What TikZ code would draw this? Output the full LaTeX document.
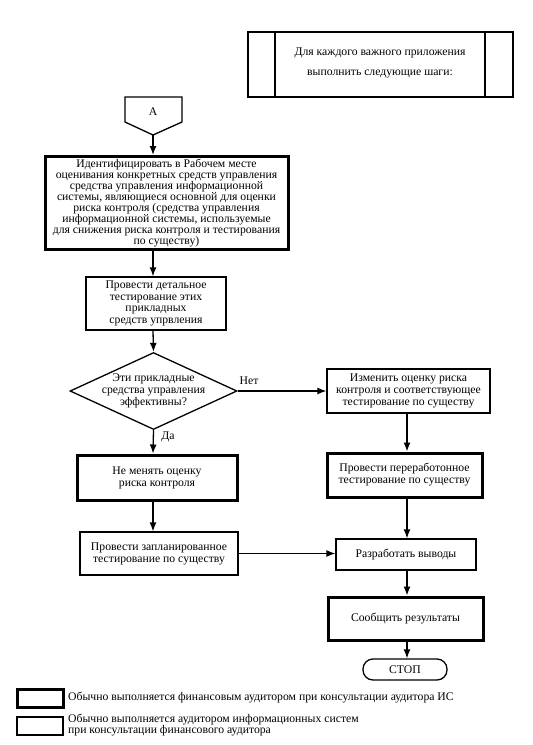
\documentclass[tikz,border=0pt]{standalone}
\usepackage{fontspec}
\setmainfont{Liberation Serif}
\usetikzlibrary{shapes.geometric,arrows.meta,calc}
\begin{document}
\begin{tikzpicture}[x=1pt,y=-1pt,
  every node/.style={font=\fontsize{11.7}{12}\selectfont},
  thinbox/.style={draw, line width=1.3pt, rectangle, inner sep=0pt, align=center},
  thickbox/.style={draw, line width=3pt, rectangle, inner sep=0pt, align=center},
  arr/.style={line width=1.3pt, -{Latex[length=9pt,width=7pt]}},
  lbl/.style={inner sep=0pt}
]
\useasboundingbox (0,0) rectangle (533,745);
\fill[white] (0,0) rectangle (533,745);

% column coordinates
\coordinate (L) at (153,0);
\coordinate (R) at (407,0);

% top box
\node[thickbox, minimum width=265pt, minimum height=65pt, line width=2.6pt] (top) at (380.5,64.5) {};
\draw[line width=2.2pt] (275,32) -- (275,97) (485,32) -- (485,97);
\node[lbl, align=center, font=\fontsize{11.7}{20}\selectfont] (toptxt) at (380,63) {Для каждого важного приложения\\выполнить следующие шаги:};

% connector A
\draw[line width=1.3pt, line join=miter] (125,97) -- (182,97) -- (182,122) -- (153,135) -- (125,122) -- cycle;
\node[lbl] (A) at (153,112) {А};
\coordinate (Abot) at (153,135);

% box 1
\node[thickbox, minimum width=243pt, minimum height=93pt, font=\fontsize{11.7}{10.9}\selectfont] (b1) at (166.5,203)
 {Идентифицировать в Рабочем месте\\оценивания конкретных средств управления\\средства управления информационной\\системы, являющиеся основной для оценки\\риска контроля (средства управления\\информационной системы, используемые\\для снижения риска контроля и тестирования\\по существу)};

% box 2
\node[thinbox, minimum width=140pt, minimum height=53pt, font=\fontsize{11.7}{11.6}\selectfont] (b2) at (156,303.5)
 {Провести детальное\\тестирование этих\\прикладных\\средств упрвления};

% diamond
\node[diamond, draw, line width=1.3pt, minimum width=167pt, minimum height=77pt, inner sep=0pt] (dia) at (153.5,391) {};
\node[lbl, align=center] (diatxt) at (153.5,391) {Эти прикладные\\средства управления\\эффективны?};

% right box 1
\node[thinbox, minimum width=163pt, minimum height=44pt] (r1) at (408.5,391)
 {Изменить оценку риска\\контроля и соответствующее\\тестирование по существу};

% left thick
\node[thickbox, minimum width=160pt, minimum height=45pt] (l1) at (157,477.5)
 {Не менять оценку\\риска контроля};

% right thick
\node[thickbox, minimum width=155pt, minimum height=44pt] (r2) at (404.5,475)
 {Провести переработонное\\тестирование по существу};

% planned testing
\node[thinbox, minimum width=158pt, minimum height=43pt] (l2) at (159,553.5)
 {Провести запланированное\\тестирование по существу};

% conclusions
\node[thinbox, minimum width=140pt, minimum height=31pt] (r3) at (406,554.5)
 {Разработать выводы};

% report
\node[thickbox, minimum width=155pt, minimum height=43pt] (r4) at (405.5,618.5)
 {Сообщить результаты};

% stop
\node[draw, line width=1.3pt, rounded corners=10pt, minimum width=84pt, minimum height=21pt, inner sep=0pt] (stop) at (405,669.5) {СТОП};

% connectors
\draw[arr] (Abot) -- (b1.north -| L);
\draw[arr] (b1.south -| L) -- (b2.north -| L);
\draw[arr] (b2.south -| L) -- (dia.north);
\draw[arr] (dia.south) -- (l1.north -| L);
\draw[arr] (l1.south -| L) -- (l2.north -| L);
\draw[arr] (dia.east) -- (r1.west |- dia.east);
\draw[arr] (r1.south -| R) -- (r2.north -| R);
\draw[arr] (r2.south -| R) -- (r3.north -| R);
\draw[arr] (l2.east) -- (r3.west |- l2.east);
\draw[arr] (r3.south -| R) -- (r4.north -| R);
\draw[arr] (r4.south -| R) -- (stop.north -| R);

\node[lbl] (net) at (249,381) {Нет};
\node[lbl] (da) at (168,437) {Да};

% legend
\node[thickbox, minimum width=46pt, minimum height=18pt] (leg1) at (40,698) {};
\node[lbl, anchor=west] (leg1t) at (68,698) {Обычно выполняется финансовым аудитором при консультации аудитора ИС};
\node[thinbox, minimum width=46pt, minimum height=18pt] (leg2) at (40,726) {};
\node[lbl, anchor=west, align=left, font=\fontsize{11.7}{11}\selectfont] (leg2t) at (68,725.5) {Обычно выполняется аудитором информационных систем\\при консультации финансового аудитора};
\end{tikzpicture}
\end{document}
